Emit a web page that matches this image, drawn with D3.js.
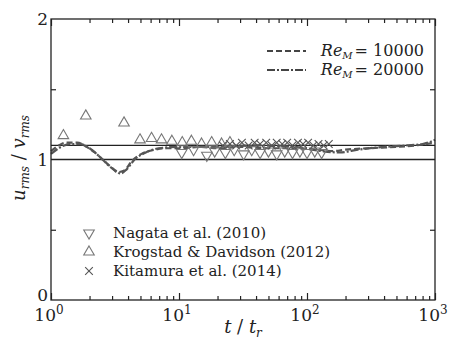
<!DOCTYPE html>
<html>
<head>
<meta charset="utf-8">
<script src="https://cdn.jsdelivr.net/npm/d3@7"></script>
<style>
  html, body { margin: 0; padding: 0; background: #fff; }
  #chart text { font-family: "DejaVu Serif", "Liberation Serif", serif; }
</style>
</head>
<body>
<svg id="chart" width="453" height="340"></svg>
<script>
// ---- data ----
const re10000 = [
  [1, 1.06], [1.15, 1.1], [1.3, 1.12], [1.6, 1.12], [1.9, 1.09], [2.2, 1.05],
  [2.6, 0.99], [3.0, 0.94], [3.3, 0.91], [3.7, 0.92], [4.3, 0.99], [5.1, 1.04],
  [6.5, 1.07], [8, 1.08], [10, 1.08], [15, 1.09], [20, 1.08], [30, 1.09],
  [50, 1.08], [80, 1.08], [120, 1.07], [160, 1.06], [200, 1.07], [300, 1.08],
  [500, 1.09], [700, 1.1], [1000, 1.12]
];
const re20000 = [
  [1, 1.04], [1.2, 1.09], [1.4, 1.11], [1.7, 1.11], [2, 1.08], [2.4, 1.02],
  [2.8, 0.96], [3.2, 0.92], [3.5, 0.9], [3.9, 0.93], [4.5, 1.0], [5.5, 1.05],
  [7, 1.08], [10, 1.09], [20, 1.09], [40, 1.1], [80, 1.09], [130, 1.06],
  [180, 1.05], [250, 1.07], [400, 1.09], [600, 1.1], [800, 1.11], [1000, 1.14]
];
const nagata = [
  [10.5, 1.05], [13, 1.07], [16.5, 1.03], [19, 1.06], [23, 1.05], [27, 1.07],
  [32, 1.04], [37, 1.07], [43, 1.05], [50, 1.06], [58, 1.04], [67, 1.06],
  [77, 1.05], [88, 1.06], [100, 1.05], [115, 1.06], [130, 1.05]
];
const krogstad = [
  [1.25, 1.17], [1.87, 1.31], [3.72, 1.26], [4.96, 1.14], [6.1, 1.15],
  [7.3, 1.14], [8.8, 1.13], [10.6, 1.12], [12.5, 1.13], [15, 1.11],
  [18, 1.12], [21.5, 1.11], [25, 1.12]
];
const kitamura = [
  [22, 1.1], [25, 1.11], [28, 1.1], [31, 1.12], [35, 1.1], [39, 1.12],
  [43, 1.11], [48, 1.12], [53, 1.1], [58, 1.12], [64, 1.11], [70, 1.12],
  [77, 1.1], [85, 1.12], [93, 1.11], [102, 1.12], [112, 1.1], [123, 1.11],
  [135, 1.1], [148, 1.11]
];
const refLines = [1, 1.1];
const yTicks = [0, 1, 2];
const xDecades = [1, 10, 100, 1000];

// ---- layout ----
const svg = d3.select("#chart");
const L = 51, R = 435, T = 19, B = 300;
const x = d3.scaleLog().domain([1, 1000]).range([L, R]);
const y = d3.scaleLinear().domain([0, 2]).range([B, T]);
const ink = "#222";

// reference lines
svg.selectAll("line.ref").data(refLines).join("line")
  .attr("x1", L).attr("x2", R)
  .attr("y1", (d) => y(d)).attr("y2", (d) => y(d))
  .attr("stroke", ink).attr("stroke-width", 1.3);

// curves
const line = d3.line().x((d) => x(d[0])).y((d) => y(d[1])).curve(d3.curveMonotoneX);
svg.append("path").datum(re10000).attr("d", line)
  .attr("fill", "none").attr("stroke", "#555").attr("stroke-width", 2.2)
  .attr("stroke-dasharray", "6,3");
svg.append("path").datum(re20000).attr("d", line)
  .attr("fill", "none").attr("stroke", "#555").attr("stroke-width", 2.2)
  .attr("stroke-dasharray", "8,2,2,2");

// markers
const mk = "#777";
const triUp = d3.symbol().type(d3.symbolTriangle).size(48);
svg.append("g").selectAll("path").data(krogstad).join("path")
  .attr("d", triUp)
  .attr("transform", (d) => `translate(${x(d[0])},${y(d[1])})`)
  .attr("fill", "none").attr("stroke", mk).attr("stroke-width", 1.1);
svg.append("g").selectAll("path").data(nagata).join("path")
  .attr("d", triUp)
  .attr("transform", (d) => `translate(${x(d[0])},${y(d[1])}) rotate(180)`)
  .attr("fill", "none").attr("stroke", mk).attr("stroke-width", 1.1);
const cross = d3.symbol().type(d3.symbolTimes).size(40);
svg.append("g").selectAll("path").data(kitamura).join("path")
  .attr("d", cross)
  .attr("transform", (d) => `translate(${x(d[0])},${y(d[1])})`)
  .attr("fill", "none").attr("stroke", "#555").attr("stroke-width", 1.1);

// frame
svg.append("rect").attr("x", L).attr("y", T).attr("width", R - L).attr("height", B - T)
  .attr("fill", "none").attr("stroke", ink).attr("stroke-width", 1.3);

// inward ticks, bottom and top
const minor = [];
for (const dec of [1, 10, 100]) for (let k = 2; k <= 9; k++) minor.push(dec * k);
[[d3.axisBottom, B], [d3.axisTop, T]].forEach(([fn, pos]) => {
  const g = svg.append("g").attr("transform", `translate(0,${pos})`);
  g.call(fn(x).tickValues(minor).tickSize(-4).tickFormat(""));
  g.append("g").call(fn(x).tickValues(xDecades).tickSize(-7).tickFormat(""));
  g.selectAll(".domain").remove();
  g.selectAll("line").attr("stroke", ink).attr("stroke-width", 1.2);
});
// inward ticks, left and right
[[d3.axisLeft, L], [d3.axisRight, R]].forEach(([fn, pos]) => {
  const g = svg.append("g").attr("transform", `translate(${pos},0)`);
  g.call(fn(y).tickValues([0.5, 1.5]).tickSize(-5).tickFormat(""));
  g.selectAll(".domain").remove();
  g.selectAll("line").attr("stroke", ink).attr("stroke-width", 1.2);
});

// tick labels
svg.append("g").selectAll("text").data(yTicks).join("text")
  .attr("x", L - 3).attr("y", (d) => y(d) + (d === 0 ? 1 : 6))
  .attr("text-anchor", "end").attr("font-size", 17).attr("fill", ink).text((d) => d);
const xl = svg.append("g").selectAll("text").data(xDecades).join("text")
  .attr("x", (d) => x(d) - 2).attr("y", 321)
  .attr("text-anchor", "middle").attr("font-size", 17).attr("fill", ink);
xl.append("tspan").text("10");
xl.append("tspan").attr("dy", -7).attr("font-size", 12).text((d) => Math.round(Math.log10(d)));

// axis titles
const xt = svg.append("text").attr("x", 243).attr("y", 333).attr("fill", ink)
  .attr("text-anchor", "middle").attr("font-size", 18).attr("font-style", "italic");
xt.append("tspan").text("t");
xt.append("tspan").attr("font-style", "normal").text(" / ");
xt.append("tspan").text("t");
xt.append("tspan").attr("dy", 4).attr("font-size", 12).text("r");

const yt = svg.append("text").attr("transform", "translate(25,158) rotate(-90)").attr("fill", ink)
  .attr("text-anchor", "middle").attr("font-size", 18).attr("font-style", "italic");
yt.append("tspan").text("u");
yt.append("tspan").attr("dy", 4).attr("font-size", 12).text("rms");
yt.append("tspan").attr("dy", -4).attr("font-style", "normal").text(" / ");
yt.append("tspan").text("v");
yt.append("tspan").attr("dy", 4).attr("font-size", 12).text("rms");

// legend, top right (curves)
const curveLeg = [
  { label: "10000", dash: "6,3", yy: 51 },
  { label: "20000", dash: "8,2,2,2", yy: 70 }
];
curveLeg.forEach((c) => {
  svg.append("line").attr("x1", 267).attr("x2", 306).attr("y1", c.yy).attr("y2", c.yy)
    .attr("stroke", "#444").attr("stroke-width", 2.2).attr("stroke-dasharray", c.dash);
  const t = svg.append("text").attr("x", 424).attr("y", c.yy + 5).attr("text-anchor", "end")
    .attr("font-size", 16).attr("fill", ink);
  t.append("tspan").attr("font-style", "italic").text("Re");
  t.append("tspan").attr("font-style", "italic").attr("font-size", 10).attr("dy", 3).text("M");
  t.append("tspan").attr("dy", -3).attr("dx", 2).text("= " + c.label);
});

// legend, bottom left (markers)
const markLeg = [
  { label: "Nagata et al. (2010)", kind: "down", yy: 233 },
  { label: "Krogstad & Davidson (2012)", kind: "up", yy: 252 },
  { label: "Kitamura et al. (2014)", kind: "x", yy: 271 }
];
markLeg.forEach((m) => {
  const p = svg.append("path").attr("fill", "none").attr("stroke-width", 1.1);
  if (m.kind === "x") {
    p.attr("d", cross).attr("stroke", "#555").attr("transform", `translate(89,${m.yy})`);
  } else {
    p.attr("d", triUp).attr("stroke", mk)
      .attr("transform", `translate(89,${m.yy})` + (m.kind === "down" ? " rotate(180)" : ""));
  }
  svg.append("text").attr("x", 113).attr("y", m.yy + 5).attr("font-size", 15).attr("fill", ink).text(m.label);
});
</script>
</body>
</html>
